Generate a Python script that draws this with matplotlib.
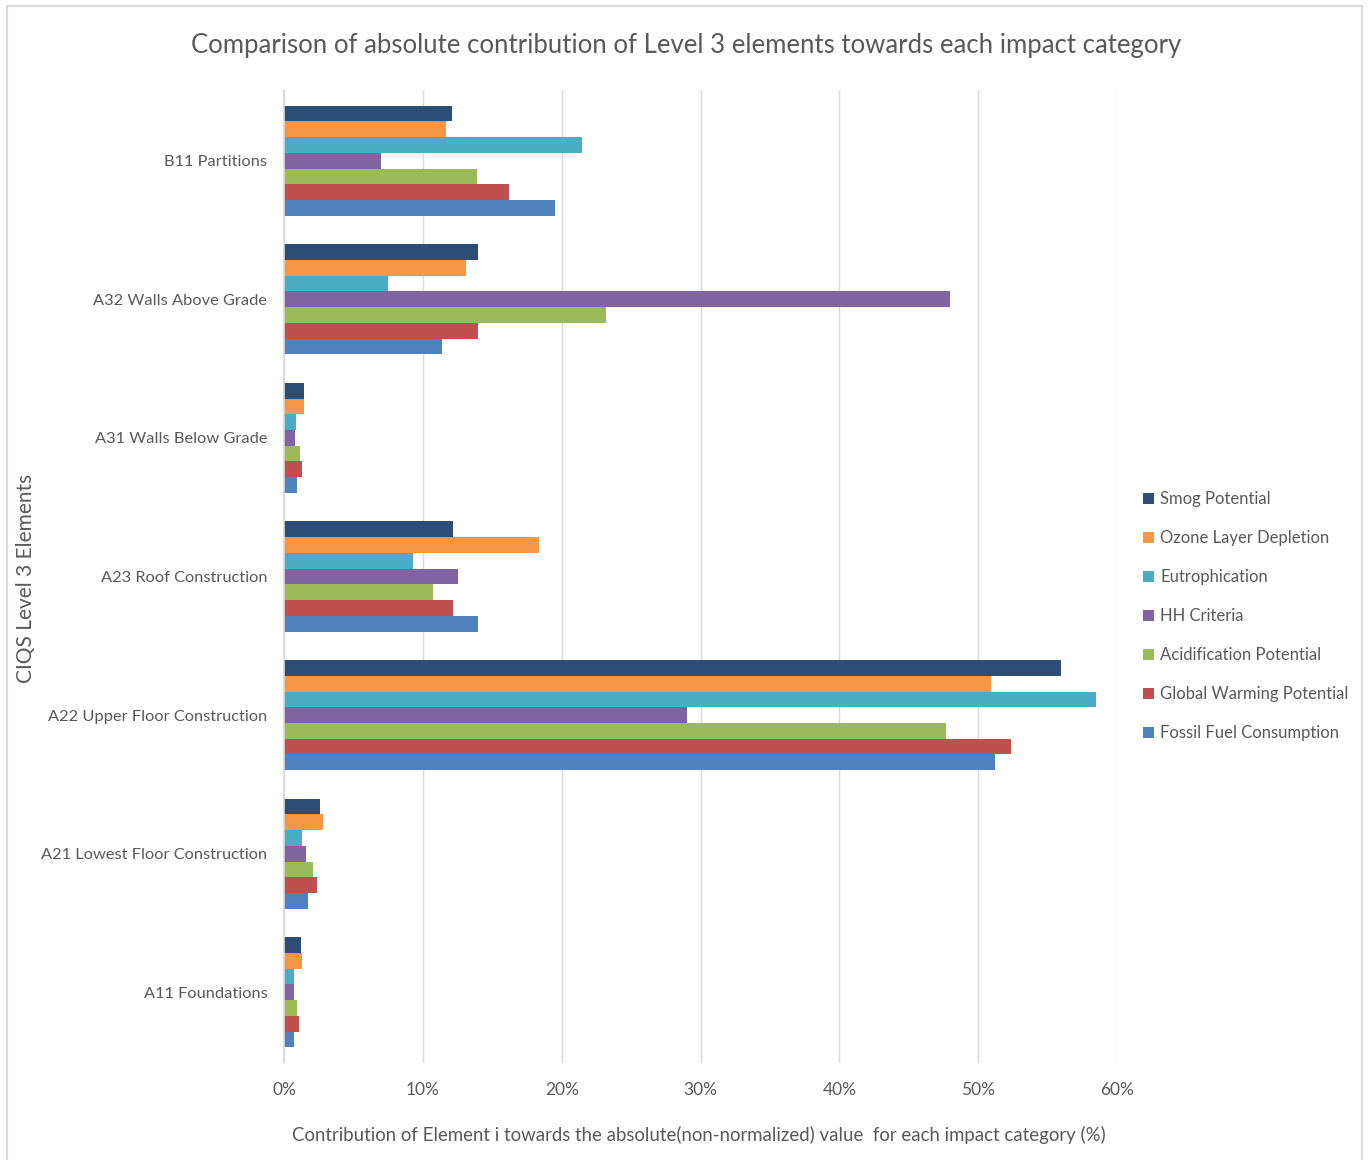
import matplotlib
matplotlib.use("Agg")
import matplotlib.pyplot as plt
from matplotlib.lines import Line2D
from matplotlib.ticker import FuncFormatter
import numpy as np

plt.rcParams['font.family'] = ['Lato', 'DejaVu Sans']

categories = ["A11 Foundations", "A21 Lowest Floor Construction", "A22 Upper Floor Construction",
              "A23 Roof Construction", "A31 Walls Below Grade", "A32 Walls Above Grade",
              "B11 Partitions"]

# series listed bottom-to-top within each group (values in %, same order as categories)
series = ["Fossil Fuel Consumption", "Global Warming Potential", "Acidification Potential",
          "HH Criteria", "Eutrophication", "Ozone Layer Depletion", "Smog Potential"]
fossil = [0.75, 1.7, 51.2, 14.0, 0.95, 11.4, 19.5]
gwp = [1.1, 2.4, 52.4, 12.2, 1.3, 14.0, 16.2]
acid = [0.95, 2.1, 47.7, 10.7, 1.15, 23.2, 13.9]
hh = [0.75, 1.55, 29.0, 12.5, 0.8, 48.0, 7.0]
eutro = [0.7, 1.3, 58.5, 9.3, 0.85, 7.5, 21.5]
ozone = [1.3, 2.8, 50.9, 18.4, 1.45, 13.1, 11.7]
smog = [1.2, 2.6, 56.0, 12.2, 1.45, 14.0, 12.1]
values = [fossil, gwp, acid, hh, eutro, ozone, smog]
colors = ["#4F81BD", "#C0504D", "#9BBB59", "#8064A2", "#4BACC6", "#F79646", "#2C4D75"]

xticks = [0, 10, 20, 30, 40, 50, 60]

text_color = "#595959"
grid_color = "#D9D9D9"

fig = plt.figure(figsize=(13.7, 11.6), dpi=100)
ax = fig.add_axes([284 / 1370, 1 - 1063 / 1160, (1117 - 284) / 1370, (1063 - 90) / 1160])

y = np.arange(len(categories))
h = 0.1135
n = len(series)
for j, (name, vals, c) in enumerate(zip(series, values, colors)):
    ax.barh(y + (j - (n - 1) / 2) * h, vals, height=h, color=c, label=name, linewidth=0)

ax.set_xlim(0, 60)
ax.set_ylim(-0.51, 6.51)
ax.set_xticks(xticks)
ax.xaxis.set_major_formatter(FuncFormatter(lambda v, p: f"{v:.0f}%"))
ax.set_yticks(y)
ax.set_yticklabels(categories)
ax.tick_params(axis='x', length=0, labelsize=12.5, colors=text_color, pad=14)
ax.tick_params(axis='y', length=0, labelsize=11.8, colors=text_color, pad=12)
ax.grid(axis='x', color=grid_color, linewidth=1)
ax.set_axisbelow(True)
for s in ["top", "right", "bottom"]:
    ax.spines[s].set_visible(False)
ax.spines["left"].set_color(grid_color)
ax.spines["left"].set_linewidth(1.2)

fig.text(686 / 1370, 1 - 46 / 1160, "Comparison of absolute contribution of Level 3 elements towards each impact category",
         ha="center", va="center", fontsize=18.5, color=text_color)
fig.text(699 / 1370, 1 - 1135 / 1160,
         "Contribution of Element i towards the absolute(non-normalized) value  for each impact category (%)",
         ha="center", va="center", fontsize=13.4, color=text_color)
fig.text(26 / 1370, 1 - 578 / 1160, "CIQS Level 3 Elements", rotation=90,
         ha="center", va="center", fontsize=15, color=text_color)

handles, labels = ax.get_legend_handles_labels()
leg = fig.legend(handles[::-1], labels[::-1], loc="center left",
                 bbox_to_anchor=(1135 / 1370, 1 - 616 / 1160), frameon=False,
                 fontsize=12, labelcolor=text_color, handlelength=0.65, handleheight=0.65,
                 handletextpad=0.35, labelspacing=1.38, borderpad=0)

# light outer frame
for xs, ys in [([7, 7], [1160, 6]), ([7, 1362], [6, 6]), ([1362, 1362], [6, 1160])]:
    fig.add_artist(Line2D([v / 1370 for v in xs], [1 - v / 1160 for v in ys],
                          color="#D9D9D9", linewidth=1.5))

fig.savefig("out.png", dpi=100, facecolor="white")
